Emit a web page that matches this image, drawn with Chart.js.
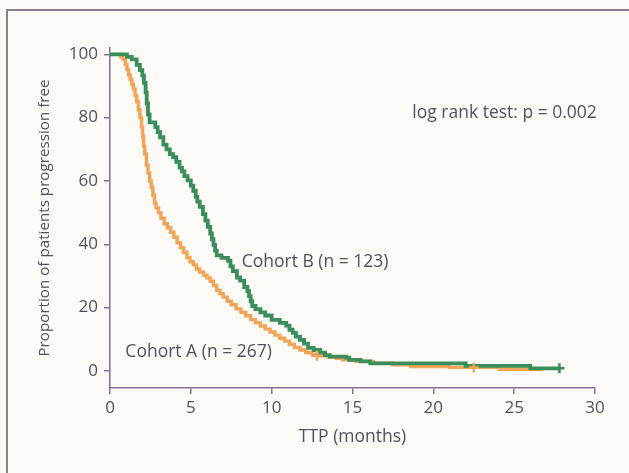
<!DOCTYPE html>
<html>
<head>
<meta charset="utf-8">
<script src="https://cdn.jsdelivr.net/npm/chart.js@4"></script>
<style>
  html, body { margin: 0; padding: 0; background: #fbfaf7; }
  #frame { position: absolute; left: 6px; top: 9px; width: 700px; height: 520px; border: 2px solid #8c7f92; }
  #wrap { position: absolute; left: 0; top: 0; width: 629px; height: 473px; }
</style>
</head>
<body>
<div id="frame"></div>
<div id="wrap"><canvas id="kmChart" width="629" height="473"></canvas></div>
<script>
// Cohort B (n = 123) - time in months, proportion progression free (%)
const cohortBTimes = [0, 1.05, 1.35, 1.65, 1.85, 2.0, 2.1, 2.2, 2.27, 2.35, 2.45, 2.8, 2.95, 3.1, 3.3, 3.5, 3.7, 3.9, 4.1, 4.3, 4.45, 4.6, 4.8, 5.0, 5.15, 5.3, 5.4, 5.55, 5.75, 5.9, 6.05, 6.2, 6.3, 6.4, 6.5, 6.6, 6.9, 7.3, 7.45, 7.6, 7.85, 8.05, 8.3, 8.5, 8.6, 8.7, 8.8, 9.0, 9.3, 9.6, 10.0, 10.5, 10.9, 11.1, 11.3, 11.5, 11.75, 12.0, 12.25, 12.6, 13.0, 13.3, 13.6, 14.6, 14.8, 15.5, 16.1, 22.0, 26.0, 27.8];
const cohortBValues = [100, 99.2, 98.4, 96.7, 95.0, 93.3, 91.0, 88.0, 84.5, 81.0, 78.5, 77.0, 75.4, 73.8, 71.5, 70.0, 68.5, 67.5, 66.0, 64.2, 63.0, 61.5, 60.2, 58.5, 56.9, 55.0, 53.5, 51.8, 49.5, 47.5, 45.5, 43.4, 41.6, 39.8, 38.0, 36.5, 35.7, 34.8, 33.0, 31.5, 29.5, 28.5, 26.5, 25.2, 23.6, 22.0, 20.5, 19.5, 18.5, 17.5, 16.1, 15.2, 14.3, 13.0, 12.0, 10.8, 9.8, 8.6, 7.3, 6.6, 5.8, 5.0, 4.5, 4.2, 3.5, 3.0, 2.4, 1.6, 0.8, 0.8];

// Cohort A (n = 267)
const cohortATimes = [0, 0.65, 0.8, 0.95, 1.05, 1.15, 1.25, 1.35, 1.45, 1.55, 1.65, 1.75, 1.85, 1.95, 2.02, 2.08, 2.15, 2.25, 2.35, 2.45, 2.55, 2.65, 2.75, 2.85, 3.0, 3.15, 3.35, 3.55, 3.75, 3.95, 4.15, 4.35, 4.55, 4.75, 4.95, 5.15, 5.35, 5.55, 5.8, 6.0, 6.2, 6.4, 6.6, 6.8, 7.0, 7.25, 7.5, 7.8, 8.1, 8.4, 8.7, 9.0, 9.3, 9.6, 9.9, 10.2, 10.5, 10.8, 11.1, 11.4, 11.75, 12.1, 12.5, 13.0, 13.5, 14.0, 14.4, 15.2, 16.3, 17.5, 18.6, 21.0, 24.1, 26.8];
const cohortAValues = [100, 99.3, 98.5, 96.8, 95.2, 93.5, 92.0, 90.5, 89.0, 87.0, 85.0, 82.5, 80.0, 77.0, 74.0, 71.0, 68.5, 65.0, 62.5, 60.0, 58.0, 55.5, 53.0, 51.5, 50.0, 48.2, 46.5, 45.2, 43.8, 42.2, 40.5, 39.0, 37.5, 35.8, 34.5, 33.5, 32.2, 31.2, 30.2, 29.4, 28.3, 27.0, 25.5, 24.4, 23.3, 22.0, 20.9, 19.6, 18.5, 17.4, 16.2, 15.2, 14.2, 13.2, 12.3, 11.3, 10.3, 9.4, 8.4, 7.4, 6.6, 5.8, 5.2, 4.8, 4.4, 4.0, 3.5, 3.0, 2.4, 1.9, 1.4, 1.1, 0.5, 0.5];

// censored observations (+ marks)
const censorBTimes = [27.8];
const censorBValues = [0.8];
const censorATimes = [12.8, 22.5];
const censorAValues = [4.8, 1.1];

const xTicks = [0, 5, 10, 15, 20, 25, 30];
const yTicks = [0, 20, 40, 60, 80, 100];

// text notes placed in data units
const notes = [
    { text: "log rank test: p = 0.002", x: 18.7, y: 81.5 },
    { text: "Cohort B (n = 123)", x: 8.15, y: 34.3 },
    { text: "Cohort A (n = 267)", x: 0.95, y: 6.0 },
];

const GREEN = "#3a8e5b";
const ORANGE = "#f2a457";
const AXIS = "#8a6f96";
const TEXT = "#564e5e";
const FONT = "'Open Sans', sans-serif";

const toPoints = (xs, ys) => xs.map((x, i) => ({ x: x, y: ys[i] }));

const notesPlugin = {
    id: "notes",
    afterDatasetsDraw(chart) {
        const { ctx, scales } = chart;
        ctx.save();
        ctx.fillStyle = TEXT;
        ctx.font = "17.5px " + FONT;
        ctx.textAlign = "left";
        ctx.textBaseline = "middle";
        notes.forEach((n) => {
            ctx.fillText(n.text, scales.x.getPixelForValue(n.x), scales.y.getPixelForValue(n.y));
        });
        ctx.restore();
    },
};

const ctx = document.getElementById("kmChart").getContext("2d");

new Chart(ctx, {
    type: "scatter",
    data: {
        datasets: [
            {
                label: "Cohort B censored",
                data: toPoints(censorBTimes, censorBValues),
                pointStyle: "cross",
                pointRadius: 5,
                borderColor: GREEN,
                borderWidth: 2.5,
                showLine: false,
            },
            {
                label: "Cohort A censored",
                data: toPoints(censorATimes, censorAValues),
                pointStyle: "cross",
                pointRadius: 5,
                borderColor: ORANGE,
                borderWidth: 2.5,
                showLine: false,
            },
            {
                label: "Cohort B (n = 123)",
                data: toPoints(cohortBTimes, cohortBValues),
                showLine: true,
                stepped: "before",
                borderColor: GREEN,
                borderWidth: 3.8,
                pointRadius: 0,
                fill: false,
            },
            {
                label: "Cohort A (n = 267)",
                data: toPoints(cohortATimes, cohortAValues),
                showLine: true,
                stepped: "before",
                borderColor: ORANGE,
                borderWidth: 3.4,
                pointRadius: 0,
                fill: false,
            },
        ],
    },
    options: {
        responsive: false,
        animation: false,
        layout: { padding: { top: 48, right: 34, left: 0, bottom: 0 } },
        plugins: { legend: { display: false }, tooltip: { enabled: false } },
        scales: {
            x: {
                type: "linear",
                min: 0,
                max: 30,
                afterBuildTicks: (scale) => { scale.ticks = xTicks.map((v) => ({ value: v })); },
                afterFit: (scale) => { scale.height = 85; },
                grid: { drawOnChartArea: false, drawTicks: true, tickLength: 6, color: AXIS, lineWidth: 1.5 },
                border: { color: AXIS, width: 1.5 },
                ticks: { color: TEXT, font: { family: FONT, size: 17 }, padding: 4, maxRotation: 0 },
                title: {
                    display: true,
                    text: "TTP (months)",
                    color: TEXT,
                    font: { family: FONT, size: 17.5 },
                    padding: { top: 0, bottom: 25 },
                },
            },
            y: {
                type: "linear",
                min: -5.4,
                max: 102,
                afterBuildTicks: (scale) => { scale.ticks = yTicks.map((v) => ({ value: v })); },
                afterFit: (scale) => { scale.width = 110; },
                grid: { drawOnChartArea: false, drawTicks: true, tickLength: 6, color: AXIS, lineWidth: 1.5 },
                border: { color: AXIS, width: 1.5 },
                ticks: { color: TEXT, font: { family: FONT, size: 17 }, padding: 6 },
                title: {
                    display: true,
                    text: "Proportion of patients progression free",
                    color: TEXT,
                    font: { family: FONT, size: 15.2 },
                    padding: { top: 36, bottom: 0 },
                },
            },
        },
    },
    plugins: [notesPlugin],
});
</script>
</body>
</html>
